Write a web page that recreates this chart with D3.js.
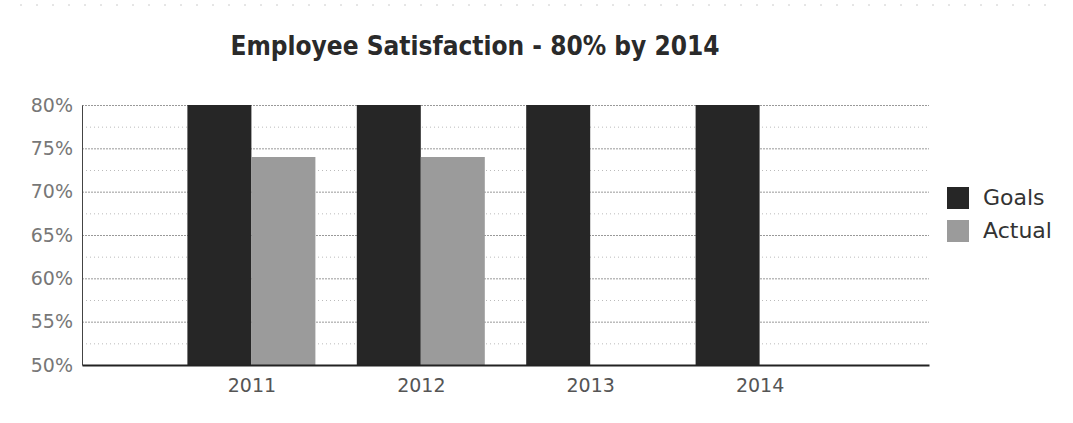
<!DOCTYPE html>
<html>
<head>
<meta charset="utf-8">
<script src="https://cdn.jsdelivr.net/npm/d3@7"></script>
<style>
  html, body { margin: 0; padding: 0; background: #fff; }
  svg { display: block; }
  text { font-family: "DejaVu Sans", Verdana, sans-serif; }
</style>
</head>
<body>
<svg id="chart" width="1073" height="423"></svg>
<script>
// ---- data ----
const years = [2011, 2012, 2013, 2014];
const goals = [80, 80, 80, 80];
const actual = [74, 74, null, null];
const seriesNames = ["Goals", "Actual"];
const yTicks = [50, 55, 60, 65, 70, 75, 80];
const yMinorTicks = [52.5, 57.5, 62.5, 67.5, 72.5, 77.5];
const titleText = "Employee Satisfaction - 80% by 2014";

// ---- layout ----
const W = 1073, H = 423;
const m = { left: 82, right: 1073 - 929, top: 105, bottom: 423 - 365 };
const colors = { Goals: "#262626", Actual: "#9b9b9b" };

const svg = d3.select("#chart");

const x = d3.scaleLinear().domain([2010, 2015]).range([m.left, W - m.right]);
const y = d3.scaleLinear().domain([50, 80]).range([H - m.bottom, m.top]);
const barW = 64;

// faint scan border artifact
svg.append("line").attr("x1", 20).attr("x2", W - 20).attr("y1", 5).attr("y2", 5)
  .attr("stroke", "#ccc").attr("stroke-dasharray", "2,14");

// minor grid
svg.append("g").selectAll("line").data(yMinorTicks).join("line")
  .attr("x1", m.left).attr("x2", W - m.right)
  .attr("y1", d => y(d) + 0.5).attr("y2", d => y(d) + 0.5)
  .attr("stroke", "#bbb").attr("stroke-dasharray", "1,3");

// major grid
svg.append("g").selectAll("line").data(yTicks.filter(d => d > 50)).join("line")
  .attr("x1", m.left).attr("x2", W - m.right)
  .attr("y1", d => y(d) + 0.5).attr("y2", d => y(d) + 0.5)
  .attr("stroke", "#999").attr("stroke-dasharray", "2,1");

// bars
const gBars = svg.append("g");
gBars.selectAll("rect.goal").data(years.map((yr, i) => ({ yr, v: goals[i] })).filter(d => d.v != null))
  .join("rect").attr("class", "goal")
  .attr("x", d => x(d.yr) - barW).attr("width", barW)
  .attr("y", d => y(d.v)).attr("height", d => y(50) - y(d.v))
  .attr("fill", colors.Goals);
gBars.selectAll("rect.actual").data(years.map((yr, i) => ({ yr, v: actual[i] })).filter(d => d.v != null))
  .join("rect").attr("class", "actual")
  .attr("x", d => x(d.yr)).attr("width", barW)
  .attr("y", d => y(d.v)).attr("height", d => y(50) - y(d.v))
  .attr("fill", colors.Actual);

// y axis
const yAxis = svg.append("g").attr("transform", `translate(${m.left},0)`)
  .call(d3.axisLeft(y).tickValues(yTicks).tickSize(0).tickPadding(9).tickFormat(d => d + "%"));
yAxis.select(".domain").attr("stroke", "#444").attr("stroke-width", 1);
yAxis.selectAll("text").attr("font-size", 19).attr("fill", "#777")
  .attr("font-family", "DejaVu Sans, sans-serif");

// x axis
const xAxis = svg.append("g").attr("transform", `translate(0,${H - m.bottom})`)
  .call(d3.axisBottom(x).tickValues(years).tickSize(0).tickPadding(14).tickFormat(d3.format("d")));
xAxis.select(".domain").attr("stroke", "#222").attr("stroke-width", 2);
xAxis.selectAll("text").attr("font-size", 19).attr("fill", "#555")
  .attr("font-family", "DejaVu Sans, sans-serif");

// title
const title = svg.append("text").attr("x", 475).attr("y", 55).attr("text-anchor", "middle")
  .attr("font-size", 26).attr("font-weight", "bold").attr("fill", "#2a2a2a")
  .style("font-stretch", "condensed")
  .text(titleText);
const tw = title.node().getComputedTextLength();
if (Math.abs(tw - 486) > 6) {
  title.attr("textLength", 486).attr("lengthAdjust", "spacingAndGlyphs");
}

// legend
const lg = svg.append("g").attr("transform", "translate(947,187)");
seriesNames.forEach((name, i) => {
  const row = lg.append("g").attr("transform", `translate(0,${i * 33})`);
  row.append("rect").attr("width", 22).attr("height", 22).attr("fill", colors[name]);
  row.append("text").attr("x", 36).attr("y", 18).attr("font-size", 22).attr("fill", "#333").text(name);
});
</script>
</body>
</html>
